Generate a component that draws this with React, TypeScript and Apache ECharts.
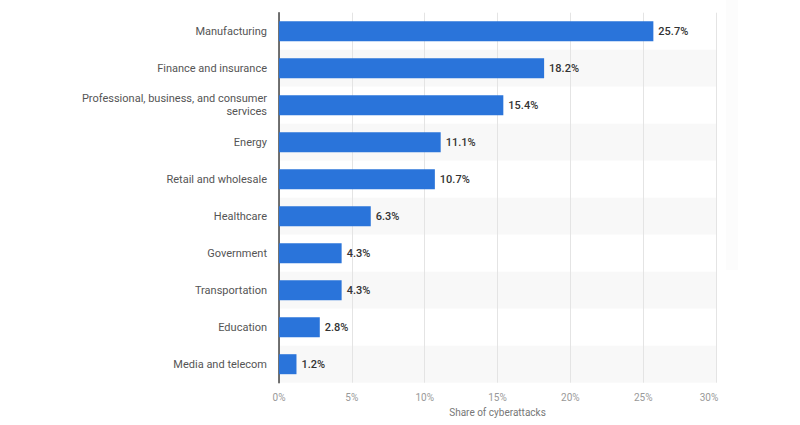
import React, { useEffect, useRef } from "react";
import * as echarts from "echarts";

const categories = [
  "Manufacturing",
  "Finance and insurance",
  "Professional, business, and consumer services",
  "Energy",
  "Retail and wholesale",
  "Healthcare",
  "Government",
  "Transportation",
  "Education",
  "Media and telecom",
];
const values = [25.7, 18.2, 15.4, 11.1, 10.7, 6.3, 4.3, 4.3, 2.8, 1.2];
const xTicks = [0, 5, 10, 15, 20, 25, 30];
const axisTitle = "Share of cyberattacks";

export default function App() {
  const ref = useRef<HTMLDivElement>(null);
  useEffect(() => {
    const chart = echarts.init(ref.current!, null, { renderer: "svg" });
    const font = "Roboto, 'DejaVu Sans', sans-serif";
    const maxTick = xTicks[xTicks.length - 1];
    chart.setOption({
      animation: false,
      backgroundColor: "#ffffff",
      graphic: [
        {
          type: "rect",
          shape: { x: 726, y: 0, width: 12, height: 270 },
          style: { fill: "#fcfcfc" },
          silent: true,
          z: -1,
        },
      ],
      grid: { left: 279, right: 84, top: 12.7, bottom: 42.3, containLabel: false },
      xAxis: {
        type: "value",
        min: xTicks[0],
        max: maxTick,
        interval: 5,
        name: axisTitle,
        nameLocation: "middle",
        nameGap: 25,
        nameTextStyle: { color: "#777", fontSize: 10, fontFamily: font },
        axisLine: { show: false },
        axisTick: { show: false },
        axisLabel: {
          color: "#999",
          fontSize: 10,
          fontFamily: font,
          margin: 10,
          formatter: (v: number) => (v === maxTick ? `{last|${v}%}` : `${v}%`),
          rich: { last: { color: "#999", fontSize: 10, fontFamily: font, padding: [0, 14, 0, 0] } },
        },
        splitLine: { show: true, lineStyle: { color: "#e4e4e4", width: 1 } },
      },
      yAxis: {
        type: "category",
        data: categories,
        inverse: true,
        axisLine: { show: true, lineStyle: { color: "#444", width: 1.5 } },
        axisTick: { show: false },
        axisLabel: {
          color: "#555",
          fontSize: 11,
          fontFamily: font,
          margin: 12,
          lineHeight: 13,
          align: "right",
          formatter: (v: string) => v.replace("consumer services", "consumer\nservices"),
        },
        splitArea: { show: true, areaStyle: { color: ["#ffffff", "#f8f8f8"] } },
      },
      series: [
        {
          type: "bar",
          data: values,
          barWidth: 20,
          itemStyle: { color: "#2a74da" },
          label: {
            show: true,
            position: "right",
            distance: 5,
            color: "#333",
            fontSize: 11,
            fontWeight: 500,
            fontFamily: font,
            formatter: (p: any) => `${p.value}%`,
          },
        },
      ],
    });
    return () => chart.dispose();
  }, []);
  return <div ref={ref} style={{ width: 800, height: 425, position: "absolute", left: 0, top: 0 }} />;
}
